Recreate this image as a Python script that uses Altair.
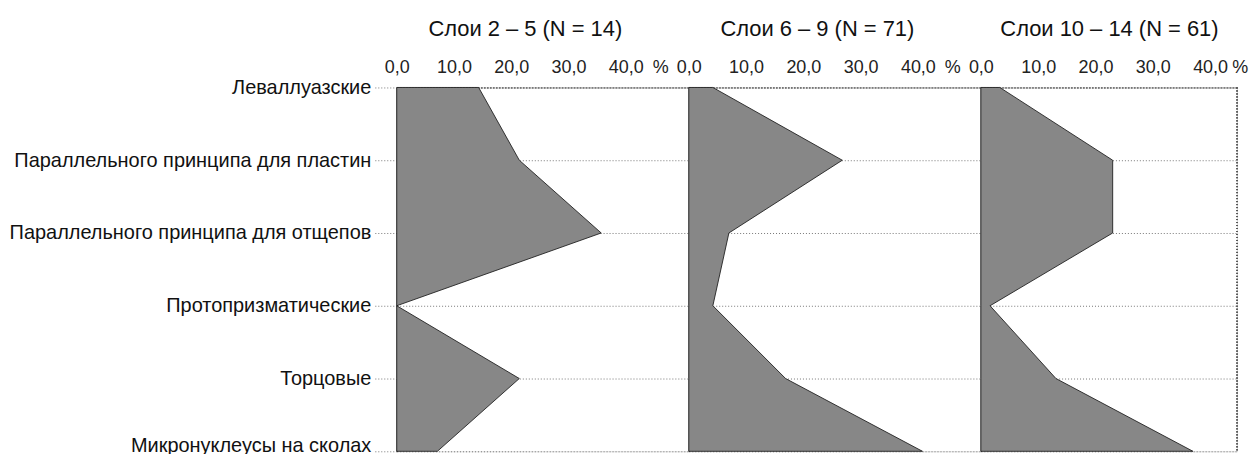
import altair as alt
import pandas as pd
import json

categories = [
    "Леваллуазские",
    "Параллельного принципа для пластин",
    "Параллельного принципа для отщепов",
    "Протопризматические",
    "Торцовые",
    "Микронуклеусы на сколах",
]
panel_titles = ["Слои 2 – 5 (N = 14)", "Слои 6 – 9 (N = 71)", "Слои 10 – 14 (N = 61)"]
layers_2_5 = [14.3, 21.4, 35.7, 0.0, 21.4, 7.1]
layers_6_9 = [4.2, 26.8, 7.0, 4.2, 16.9, 40.8]
layers_10_14 = [3.3, 23.0, 23.0, 1.6, 13.1, 37.0]
tick_values = [0, 10, 20, 30, 40]

series = [layers_2_5, layers_6_9, layers_10_14]
widths = [293, 293, 257]
domains = [51.0, 51.0, 44.7]
PX_H = 365
FONT = "Liberation Sans"

cat_expr = json.dumps(categories, ensure_ascii=False) + "[datum.value]"
idx = list(range(len(categories)))
last = len(categories) - 1

panels = []
for i, (vals, title, w, dmax) in enumerate(zip(series, panel_titles, widths, domains)):
    df = pd.DataFrame({"cat": categories, "val": vals, "idx": idx})
    if dmax >= 46:
        pct_at, pct_shift = 46, 0
    else:
        pct_at, pct_shift = dmax - 0.05, 3
    label_expr = ("datum.value > 41 ? '%' : "
                  "replace(format(datum.value, '.1f'), '.', ',')")
    grid_kw = dict(grid=True, gridColor="#777", gridDash=[1, 2], gridWidth=1,
                   domainColor="#222", domainWidth=1.2)
    if i == 0:
        yaxis = alt.Axis(
            title=None, values=idx, labelExpr=cat_expr,
            labelFontSize=20, labelFont=FONT, labelColor="#111",
            labelPadding=2, tickSize=24, tickColor="#777", tickDash=[1, 2],
            minExtent=388, maxExtent=388, labelLimit=420, labelFlush=False,
            labelOverlap=False,
            labelBaseline={"condition": {"test": f"datum.value == {last}", "value": "alphabetic"},
                           "value": "middle"},
            **grid_kw,
        )
    else:
        yaxis = alt.Axis(
            title=None, values=idx, labels=False, ticks=False,
            minExtent=0, maxExtent=0, **grid_kw,
        )
    xaxis = alt.Axis(
        orient="top", title=None, values=tick_values + [pct_at], labelExpr=label_expr,
        labelFontSize=18, labelFont=FONT, labelColor="#222", labelPadding=11,
        ticks=False, grid=False, domainColor="#444", domainDash=[2, 1],
        labelOverlap=False, labelFlush=False,
        labelOffset={"condition": {"test": "datum.value > 41", "value": pct_shift},
                     "value": 0},
    )
    xscale = alt.Scale(domain=[0, dmax], nice=False, zero=True)
    yscale = alt.Scale(domain=[0, last], reverse=True, nice=False, zero=False)
    area = alt.Chart(df).mark_area(
        orient="horizontal", fill="#878787", stroke="#222", strokeWidth=0.9,
        interpolate="linear",
    ).encode(
        x=alt.X("val:Q", scale=xscale, axis=xaxis, stack=None),
        y=alt.Y("idx:Q", scale=yscale, axis=yaxis),
    )
    if i == 2:
        border = alt.Chart(df).mark_rule(
            color="#555", strokeDash=[1, 2], strokeWidth=1
        ).encode(x=alt.datum(dmax))
        ch = alt.layer(area, border)
    else:
        ch = area
    ch = ch.properties(
        width=w, height=PX_H,
        title=alt.TitleParams(
            title, fontSize=22, font=FONT, fontWeight="normal", color="#111",
            anchor="middle", dx=129 - w / 2, offset=18,
        ),
    )
    panels.append(ch)

chart = alt.hconcat(*panels, spacing=0, bounds="flush").properties(
    padding={"left": 0, "top": 8, "right": 0, "bottom": 0}
).configure_view(stroke=None).configure(font=FONT)

chart.save("out.html", embed_options={"renderer": "svg", "actions": False})
